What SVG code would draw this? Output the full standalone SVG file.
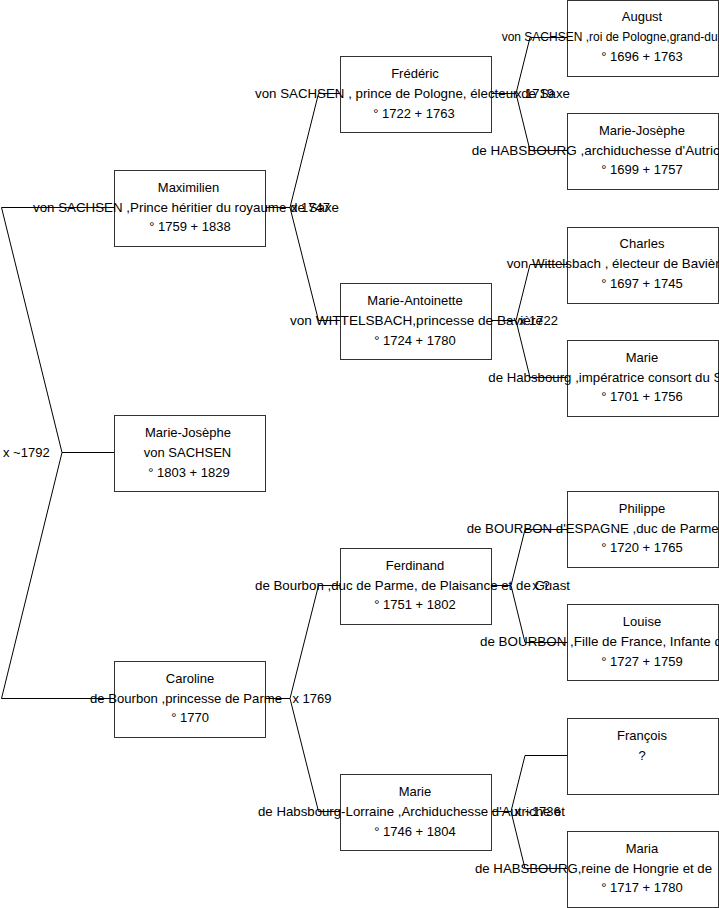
<svg xmlns="http://www.w3.org/2000/svg" width="719" height="908" viewBox="0 0 719 908">
<style>
text{font-family:"Liberation Sans",Arial,sans-serif;font-size:13px;fill:#000}
.c{text-anchor:middle}
.box{fill:#fff;stroke:#333;stroke-width:1}
.ln{fill:none;stroke:#000;stroke-width:1}
</style>
<rect width="719" height="908" fill="#fff"/>
<g id="connectors">
<polyline class="ln" points="114,452.5 62,452.5 1.5,207.5 114,207.5"/>
<polyline class="ln" points="62,452.5 1.5,698.5 114,698.5"/>
<polyline class="ln" points="265,207.5 290,207.5 318.5,93.5 340,93.5"/>
<polyline class="ln" points="290,207.5 318.5,320.5 340,320.5"/>
<polyline class="ln" points="265,698.5 290,698.5 318.5,585.5 340,585.5"/>
<polyline class="ln" points="290,698.5 318.5,811.5 340,811.5"/>
<polyline class="ln" points="491,93.5 516,93.5 530,37.5 567,37.5"/>
<polyline class="ln" points="516,93.5 530,150.5 567,150.5"/>
<polyline class="ln" points="491,320.5 516,320.5 530,264.5 567,264.5"/>
<polyline class="ln" points="516,320.5 530,377.5 567,377.5"/>
<polyline class="ln" points="491,585.5 511,585.5 525,529.5 567,529.5"/>
<polyline class="ln" points="511,585.5 525,642.5 567,642.5"/>
<polyline class="ln" points="491,811.5 511,811.5 525,755.5 567,755.5"/>
<polyline class="ln" points="511,811.5 525,868.5 567,868.5"/>
<text x="3" y="457">x ~1792</text>
<text class="c" x="310.5" y="212">x 1747</text>
<text class="c" x="312" y="703">x 1769</text>
<text class="c" x="534.5" y="98">x 1719</text>
<text class="c" x="538.5" y="325">x 1722</text>
<text class="c" x="541" y="590">x ?</text>
<text class="c" x="537.5" y="816">x ~1736</text>
</g>
<g id="n-root">
<rect class="box" x="114.5" y="415.5" width="151" height="76"/>
<text class="c" x="188" y="437">Marie-Josèphe</text>
<text class="c" x="187.5" y="457">von SACHSEN</text>
<text class="c" x="189" y="477">° 1803 + 1829</text>
</g>
<g id="n-maximilien">
<rect class="box" x="114.5" y="170.5" width="151" height="76"/>
<text class="c" x="188.5" y="191.5">Maximilien</text>
<text x="33" y="211.5" textLength="306" lengthAdjust="spacingAndGlyphs">von SACHSEN ,Prince héritier du royaume de Saxe</text>
<text class="c" x="190" y="231">° 1759 + 1838</text>
</g>
<g id="n-caroline">
<rect class="box" x="114.5" y="661.5" width="151" height="76"/>
<text class="c" x="190" y="682.5">Caroline</text>
<text x="90" y="702.5" textLength="192" lengthAdjust="spacingAndGlyphs">de Bourbon ,princesse de Parme</text>
<text class="c" x="190" y="722">° 1770</text>
</g>
<g id="n-frederic">
<rect class="box" x="340.5" y="56.5" width="151" height="76"/>
<text class="c" x="415" y="78">Frédéric</text>
<text x="255" y="98" textLength="315" lengthAdjust="spacingAndGlyphs">von SACHSEN , prince de Pologne, électeur de Saxe</text>
<text class="c" x="414" y="117.5">° 1722 + 1763</text>
</g>
<g id="n-marie-antoinette">
<rect class="box" x="340.5" y="283.5" width="151" height="76"/>
<text class="c" x="415" y="305">Marie-Antoinette</text>
<text x="290" y="325" textLength="253" lengthAdjust="spacingAndGlyphs">von WITTELSBACH,princesse de Bavière</text>
<text class="c" x="415" y="344.5">° 1724 + 1780</text>
</g>
<g id="n-ferdinand">
<rect class="box" x="340.5" y="548.5" width="151" height="76"/>
<text class="c" x="415" y="569.5">Ferdinand</text>
<text x="255" y="589.5" textLength="315" lengthAdjust="spacingAndGlyphs">de Bourbon ,duc de Parme, de Plaisance et de Guast</text>
<text class="c" x="415" y="609">° 1751 + 1802</text>
</g>
<g id="n-marie">
<rect class="box" x="340.5" y="774.5" width="151" height="76"/>
<text class="c" x="415" y="796">Marie</text>
<text x="258" y="816" textLength="307" lengthAdjust="spacingAndGlyphs">de Habsbourg-Lorraine ,Archiduchesse d'Autriche et</text>
<text class="c" x="415" y="835.5">° 1746 + 1804</text>
</g>
<g id="n-august">
<rect class="box" x="567.5" y="0.5" width="151" height="76"/>
<text class="c" x="642" y="21">August</text>
<text x="501.7" y="41" textLength="216" lengthAdjust="spacingAndGlyphs">von SACHSEN ,roi de Pologne,grand-du</text>
<text class="c" x="642" y="60.5">° 1696 + 1763</text>
</g>
<g id="n-marie-josephe-h">
<rect class="box" x="567.5" y="113.5" width="151" height="76"/>
<text class="c" x="642" y="134.5">Marie-Josèphe</text>
<text x="471.7" y="154.5" textLength="248" lengthAdjust="spacingAndGlyphs">de HABSBOURG ,archiduchesse d'Autric</text>
<text class="c" x="642" y="174">° 1699 + 1757</text>
</g>
<g id="n-charles">
<rect class="box" x="567.5" y="227.5" width="151" height="76"/>
<text class="c" x="642" y="248">Charles</text>
<text x="506.7" y="268" textLength="213" lengthAdjust="spacingAndGlyphs">von Wittelsbach , électeur de Bavièr</text>
<text class="c" x="642" y="287.5">° 1697 + 1745</text>
</g>
<g id="n-marie-h">
<rect class="box" x="567.5" y="340.5" width="151" height="76"/>
<text class="c" x="642" y="361.5">Marie</text>
<text x="488.3" y="381.5" textLength="234" lengthAdjust="spacingAndGlyphs">de Habsbourg ,impératrice consort du S</text>
<text class="c" x="642" y="401">° 1701 + 1756</text>
</g>
<g id="n-philippe">
<rect class="box" x="567.5" y="491.5" width="151" height="76"/>
<text class="c" x="642" y="512.5">Philippe</text>
<text x="466.7" y="532.5" textLength="252" lengthAdjust="spacingAndGlyphs">de BOURBON d'ESPAGNE ,duc de Parme</text>
<text class="c" x="642" y="552">° 1720 + 1765</text>
</g>
<g id="n-louise">
<rect class="box" x="567.5" y="604.5" width="151" height="76"/>
<text class="c" x="642" y="626">Louise</text>
<text x="480" y="646" textLength="242" lengthAdjust="spacingAndGlyphs">de BOURBON ,Fille de France, Infante d</text>
<text class="c" x="642" y="665.5">° 1727 + 1759</text>
</g>
<g id="n-francois">
<rect class="box" x="567.5" y="718.5" width="151" height="76"/>
<text class="c" x="642" y="739.5">François</text>
<text class="c" x="642" y="759.5">?</text>
</g>
<g id="n-maria">
<rect class="box" x="567.5" y="831.5" width="151" height="76"/>
<text class="c" x="642" y="852.5">Maria</text>
<text x="475" y="872.5" textLength="237" lengthAdjust="spacingAndGlyphs">de HABSBOURG,reine de Hongrie et de</text>
<text class="c" x="642" y="892">° 1717 + 1780</text>
</g>
</svg>
